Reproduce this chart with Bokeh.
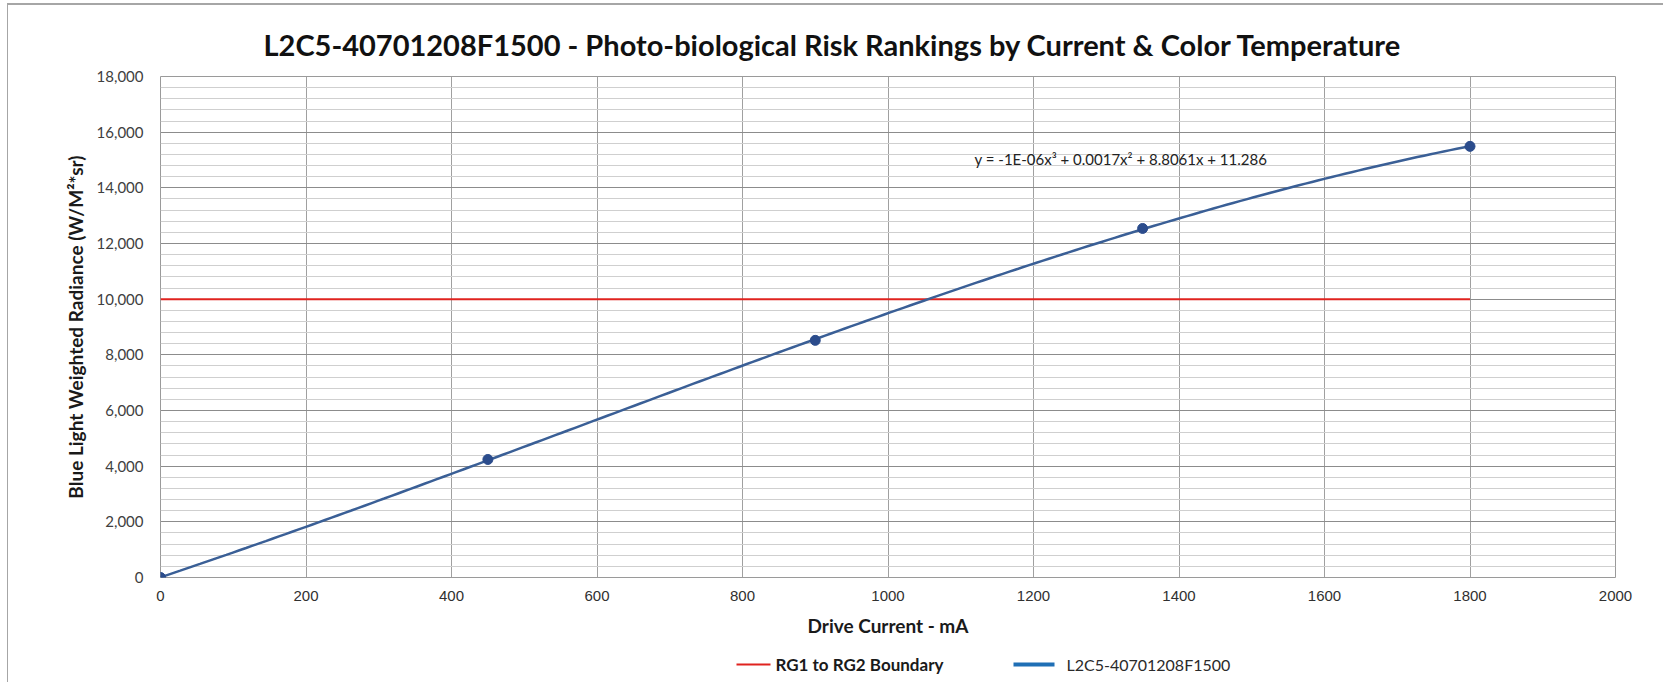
import numpy as np
from bokeh.plotting import figure
from bokeh.layouts import column
from bokeh.models import (Range1d, SingleIntervalTicker, NumeralTickFormatter, Label)
from bokeh.core.properties import value
from bokeh.embed import file_html
from bokeh.resources import INLINE

# ---- data ----
current_ma = [0, 450, 900, 1350, 1800]
radiance = [0, 4240, 8520, 12540, 15490]
boundary_x = [0, 1800]
boundary_y = [10000, 10000]
series_name = "L2C5-40701208F1500"
boundary_name = "RG1 to RG2 Boundary"
title_text = "L2C5-40701208F1500 - Photo-biological Risk Rankings by Current & Color Temperature"
x_label = "Drive Current - mA"
y_label = "Blue Light Weighted Radiance (W/M\u00b2*sr)"
equation = "y = -1E-06x\u00b3  + 0.0017x\u00b2  + 8.8061x  + 11.286"

W = 1663
FL, FW = 160, 1455   # frame left and width in pixels
p = figure(width=W, height=648, output_backend="svg", toolbar_location=None,
           x_range=Range1d(0, 2000), y_range=Range1d(0, 18000),
           min_border_left=FL, min_border_right=W - FL - FW, min_border_top=76,
           min_border_bottom=648 - 76 - 501)

p.background_fill_color = "white"
p.border_fill_color = None
p.outline_line_color = "#9a9a9a"
p.outline_line_width = 1

p.title.text = title_text
p.title.align = "left"
p.title.offset = 103
p.title.standoff = 30
p.title.text_font = "Lato"
p.title.text_font_style = "bold"
p.title.text_font_size = "29px"
p.title.text_color = "#111111"

yt = SingleIntervalTicker(interval=2000, num_minor_ticks=5)
xt = SingleIntervalTicker(interval=200, num_minor_ticks=0)
p.yaxis.ticker = yt
p.ygrid.ticker = yt
p.xaxis.ticker = xt
p.xgrid.ticker = xt

p.ygrid.grid_line_color = "#8c8c8c"
p.ygrid.minor_grid_line_color = "#cfcfcf"
p.xgrid.grid_line_color = "#a0a0a0"

p.yaxis.formatter = NumeralTickFormatter(format="0,0")
for ax in (p.xaxis, p.yaxis):
    ax.axis_line_color = None
    ax.major_tick_line_color = None
    ax.minor_tick_line_color = None
    ax.major_tick_out = 0
    ax.minor_tick_out = 0

p.yaxis.major_label_text_font = "Lato"
p.yaxis.major_label_text_font_size = "15px"
p.yaxis.major_label_text_color = "#404040"
p.yaxis.major_label_standoff = 17
p.yaxis.axis_label = y_label
p.yaxis.axis_label_text_font = "Lato"
p.yaxis.axis_label_text_font_style = "bold"
p.yaxis.axis_label_text_font_size = "19px"
p.yaxis.axis_label_text_color = "#1a1a1a"
p.yaxis.axis_label_standoff = 7

p.xaxis.major_label_text_font = "Liberation Sans"
p.xaxis.major_label_text_font_size = "15px"
p.xaxis.major_label_text_color = "#303030"
p.xaxis.major_label_standoff = 13
p.xaxis.axis_label = x_label
p.xaxis.axis_label_text_font = "Lato"
p.xaxis.axis_label_text_font_style = "bold"
p.xaxis.axis_label_text_font_size = "19px"
p.xaxis.axis_label_text_color = "#1a1a1a"
p.xaxis.axis_label_standoff = 10

# boundary line
p.line(boundary_x, boundary_y, line_color="#e0231f", line_width=2)

# polynomial trendline (cubic fit of the measured points, as in the source chart)
coef = np.polyfit(current_ma, radiance, 3)
xs = np.linspace(current_ma[0], current_ma[-1], 200)
p.line(xs, np.polyval(coef, xs), line_color="#3a5f96", line_width=2.5)
p.scatter(current_ma, radiance, size=10, fill_color="#2b4c8c", line_color="#2b4c8c")

# trendline equation
p.add_layout(Label(x=1119, y=15020, text=equation, text_align="left",
                   text_baseline="middle", text_font="Lato",
                   text_font_size="15px", text_color="#222222"))

# ---- legend strip below the chart (frame aligned with the chart frame) ----
LH = 34
leg = figure(width=W, height=LH, output_backend="svg", toolbar_location=None,
             x_range=Range1d(FL, FL + FW), y_range=Range1d(LH, 0),
             min_border_left=FL, min_border_right=W - FL - FW,
             min_border_top=0, min_border_bottom=0)
leg.axis.visible = False
leg.grid.visible = False
leg.outline_line_color = None
leg.background_fill_color = None
leg.border_fill_color = None
ly = 16
leg.line([736, 770], [ly, ly], line_color="#e0231f", line_width=2)
leg.text([775], [ly], text=[boundary_name], text_font=value("Lato"),
         text_font_style="bold", text_font_size="17px", text_color="#1a1a1a",
         text_baseline="middle", text_align="left")
leg.line([1013, 1054], [ly, ly], line_color="#1f6fb5", line_width=4)
leg.text([1066], [ly], text=[series_name], text_font=value("Lato"),
         text_font_size="16px", text_color="#2a2a2a",
         text_baseline="middle", text_align="left")

layout = column(p, leg, spacing=0)
layout.styles = {"box-shadow": "inset 7px 3px 0 0 #ffffff, inset 8px 5px 0 0 #a6a6a6"}

open("out.html", "w").write(file_html(layout, INLINE))
